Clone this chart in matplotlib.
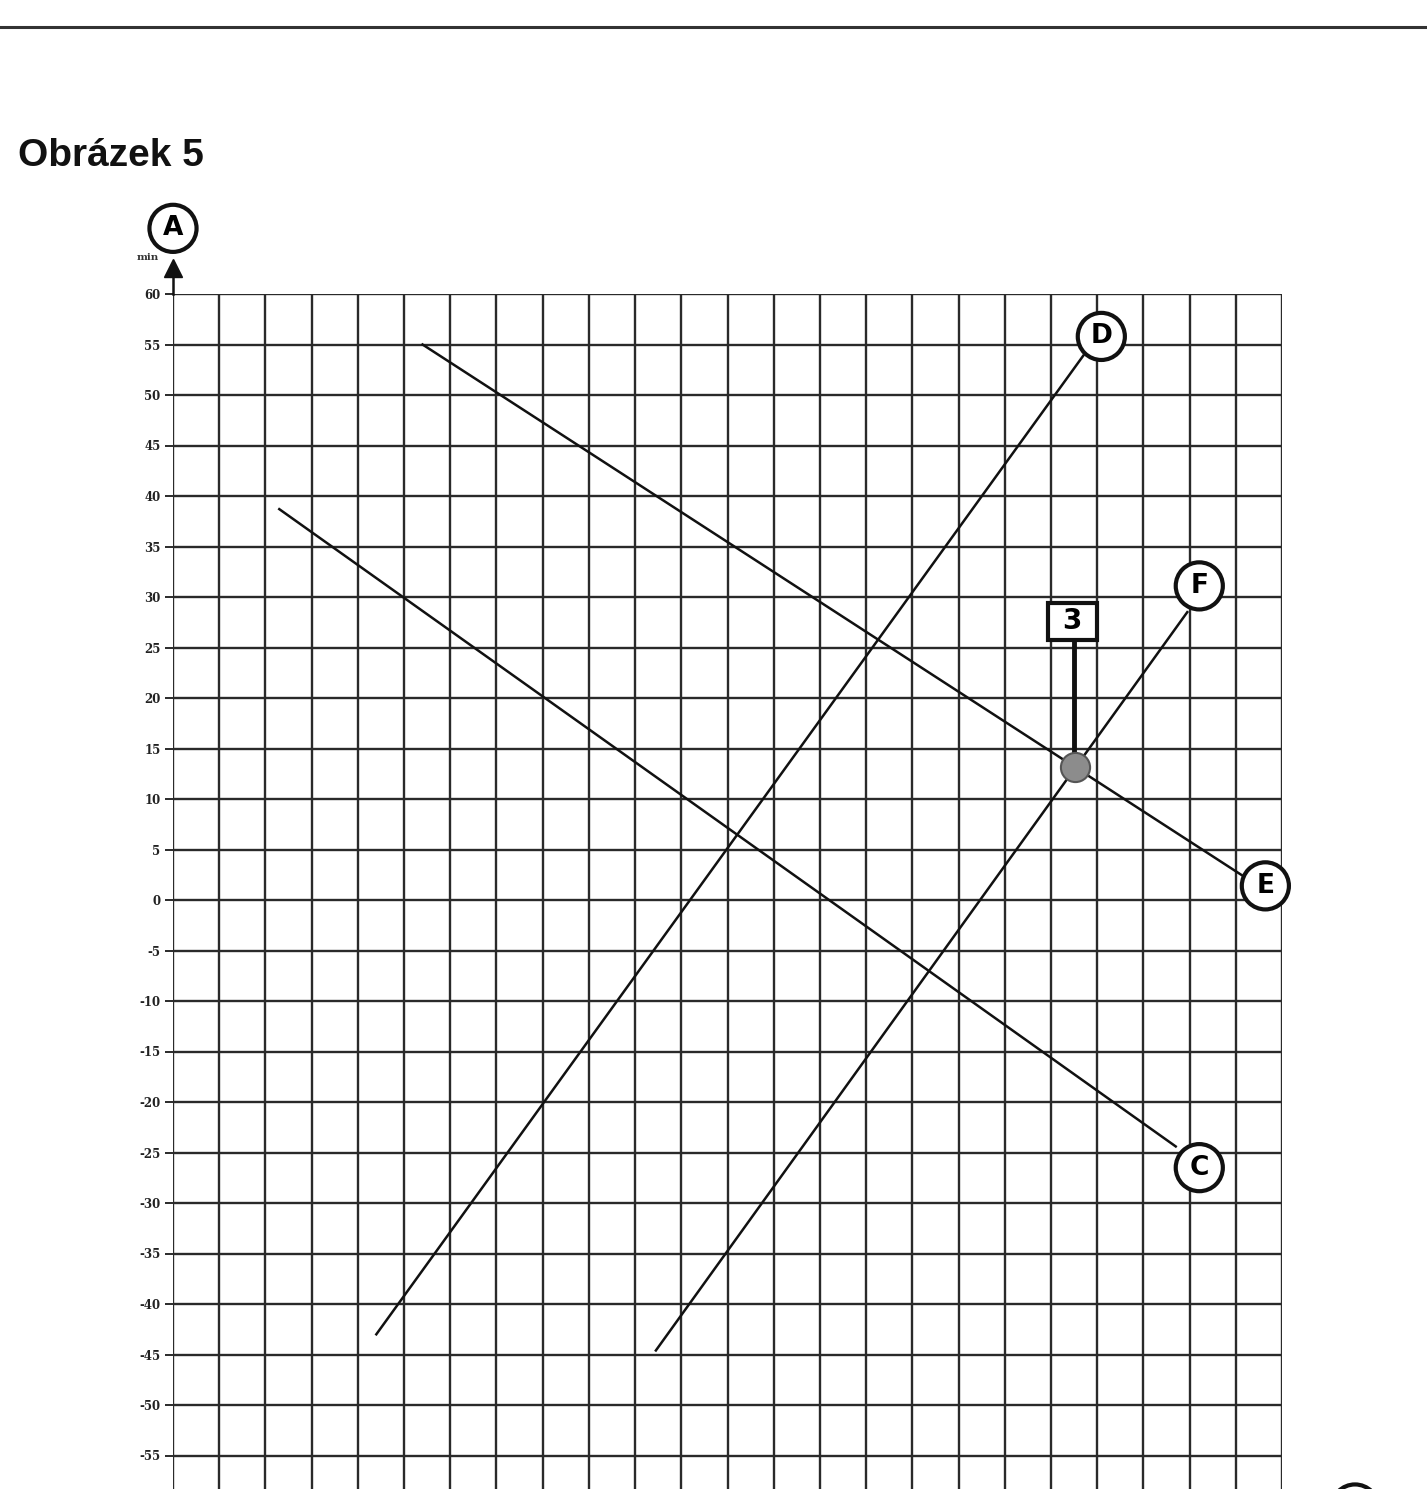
import numpy as np
import matplotlib.pyplot as plt
from matplotlib.patches import Rectangle

# y axis ticks (minutes) and grid columns
y_ticks = [60, 55, 50, 45, 40, 35, 30, 25, 20, 15, 10, 5, 0, -5, -10, -15, -20,
           -25, -30, -35, -40, -45, -50, -55]
n_cols = 24

# line end points in (column, minutes)
line_names = ['C', 'D', 'E', 'F']
line_x = {'C': [2.3, 21.7], 'D': [4.4, 19.7], 'E': [5.4, 23.15], 'F': [10.45, 21.95]}
line_y = {'C': [38.7, -24.4], 'D': [-43.0, 53.9], 'E': [55.0, 2.4], 'F': [-44.6, 28.5]}

# circled labels at line ends
label_x = {'C': 22.21, 'D': 20.09, 'E': 23.64, 'F': 22.21}
label_y = {'C': -26.5, 'D': 55.8, 'E': 1.4, 'F': 31.1}

# intersection point "3"
pt_x, pt_y = 19.52, 13.2
box_x, box_y = 19.46, 27.6

W, H = 1427, 1489
fig = plt.figure(figsize=(W / 100, H / 100), dpi=100)

# top rule and title
fig.add_artist(plt.Line2D([0, 1], [1 - 27 / H, 1 - 27 / H], color='#333333', lw=2.2))
fig.text(18 / W, 1 - 156 / H, 'Obrázek 5', fontsize=28, fontweight='bold',
         family='Liberation Sans', va='center', ha='left', color='#111111')

ymin, ymax = -65, 60
px_per_unit = 10.1
top_px = 294
bot_px = top_px + (ymax - ymin) * px_per_unit
ax = fig.add_axes([173 / W, 1 - bot_px / H, (1282 - 173) / W, (bot_px - top_px) / H])
ax.set_xlim(0, n_cols)
ax.set_ylim(ymin, ymax)

# grid
for i in range(n_cols + 1):
    ax.axvline(i, color='#2a2a2a', lw=1.7, zorder=1)
for v in range(ymin, ymax + 1, 5):
    ax.axhline(v, color='#2a2a2a', lw=1.7, zorder=1)

for s in ax.spines.values():
    s.set_visible(False)
ax.set_xticks([])
ax.set_yticks(y_ticks)
ax.set_yticklabels([str(t) for t in y_ticks],
                   fontsize=8.5, fontweight='bold', family='DejaVu Serif', color='#222222')
ax.tick_params(axis='y', length=6, width=1.4, color='#2a2a2a', pad=3)

# y axis arrow + unit
ax.plot([0, 0], [60, 62.2], color='#111111', lw=1.8, clip_on=False, zorder=3)
ax.plot([0], [62.6], marker='^', markersize=13, color='#111111', clip_on=False, zorder=3)
ax.text(-0.3, 63.6, 'min', fontsize=7.5, family='DejaVu Serif', fontweight='bold',
        ha='right', va='center', color='#333333')

circle_style = dict(boxstyle='circle,pad=0.4', fc='white', ec='#111111', lw=3)
ax.text(0, 66.5, 'A', fontsize=19, fontweight='bold', family='DejaVu Sans',
        ha='center', va='center', bbox=circle_style, clip_on=False, zorder=5)

# lines
for name in line_names:
    ax.plot(line_x[name], line_y[name], color='#111111', lw=1.8, zorder=3)
    ax.text(label_x[name], label_y[name], name, fontsize=19, fontweight='bold',
            family='DejaVu Sans', ha='center', va='center', bbox=circle_style,
            clip_on=False, zorder=5)

# marker 3
ax.plot([pt_x - 0.03, pt_x - 0.03], [pt_y, box_y], color='#111111', lw=3.5, zorder=4)
ax.plot([pt_x], [pt_y], marker='o', markersize=21, markerfacecolor='#8c8c8c',
        markeredgecolor='#555555', markeredgewidth=1.5, zorder=6)
ax.add_patch(Rectangle((box_x - 0.53, box_y - 1.85), 1.06, 3.7, fc='white',
                       ec='#111111', lw=3, zorder=6))
ax.text(box_x, box_y, '3', fontsize=20, fontweight='bold', family='DejaVu Sans',
        ha='center', va='center', zorder=7)

# x axis label circle (cut off at the page bottom)
fig.text(1355 / W, 1 - 1508 / H, 'B', fontsize=19, fontweight='bold',
         family='DejaVu Sans', ha='center', va='center', bbox=circle_style)

fig.savefig('out.png', dpi=100)
